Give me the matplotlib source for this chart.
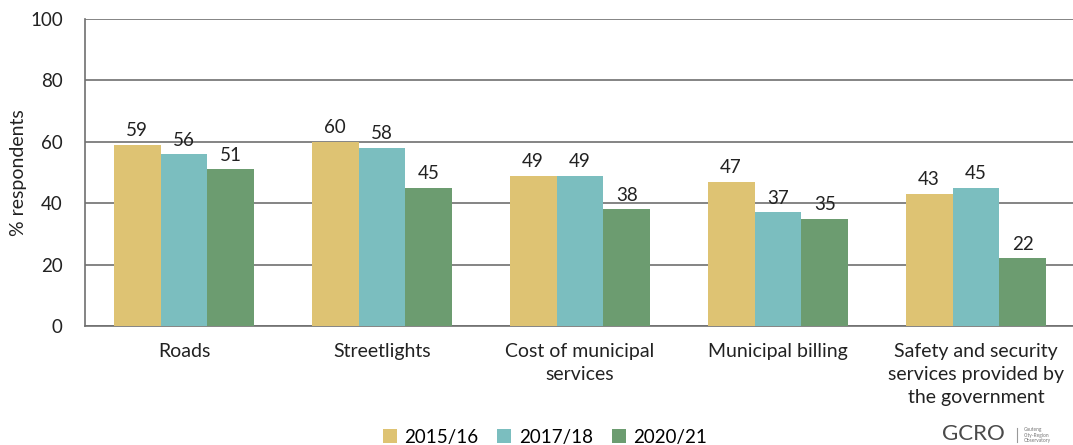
import numpy as np
import matplotlib.pyplot as plt

plt.rcParams['font.family'] = ['Lato', 'DejaVu Sans']

categories = ['Roads', 'Streetlights', 'Cost of municipal\nservices',
              'Municipal billing',
              'Safety and security\nservices provided by\nthe government']
years = ['2015/16', '2017/18', '2020/21']
vals_2015 = [59, 60, 49, 47, 43]
vals_2017 = [56, 58, 49, 37, 45]
vals_2020 = [51, 45, 38, 35, 22]
colors = ['#DEC373', '#7BBEBF', '#6C9C70']

fig = plt.figure(figsize=(10.73, 4.45), dpi=100)
ax = fig.add_axes([85 / 1073, 119 / 445, 990 / 1073, 307 / 445])

x = np.arange(len(categories))
w = 0.237
series = [vals_2015, vals_2017, vals_2020]
for i, (vals, c, lab) in enumerate(zip(series, colors, years)):
    bars = ax.bar(x + (i - 1) * w, vals, width=w, color=c, label=lab, zorder=3)
    for b, v in zip(bars, vals):
        ax.annotate(str(v), (b.get_x() + b.get_width() / 2, v),
                    xytext=(0, 4), textcoords='offset points',
                    ha='center', va='bottom', fontsize=13.5, color='#222222')

ax.set_xlim(-0.5, len(categories) - 0.5)
ax.set_ylim(0, 100)
ax.set_yticks([0, 20, 40, 60, 80, 100])
ax.grid(axis='y', color='#6f6f6f', linewidth=1.2, zorder=0)
ax.set_xticks(x)
ax.set_xticklabels(categories, fontsize=14, linespacing=1.45)
ax.tick_params(axis='both', length=0, colors='#222222')
ax.tick_params(axis='y', labelsize=13.5, pad=16)
ax.tick_params(axis='x', pad=12)
for s in ['top', 'right']:
    ax.spines[s].set_visible(False)
for s in ['left', 'bottom']:
    ax.spines[s].set_color('#6f6f6f')
    ax.spines[s].set_linewidth(1.2)
ax.set_ylabel('% respondents', fontsize=14, color='#222222', labelpad=2)

fig.legend(loc='center', bbox_to_anchor=(545 / 1073, 8 / 445), ncol=3,
           frameon=False, fontsize=13.5, handlelength=0.75, handleheight=0.75,
           handletextpad=0.4, columnspacing=1.0)

fig.text(942 / 1073, 11 / 445, 'GCRO', fontsize=16, color='#4a4a4a',
         va='center', ha='left')
fig.add_artist(plt.Line2D([1017 / 1073, 1017 / 1073], [3 / 445, 17 / 445],
                          color='#999999', linewidth=0.8))
fig.text(1024 / 1073, 10 / 445, 'Gauteng\nCity-Region\nObservatory',
         fontsize=3.5, color='#777777', va='center', ha='left',
         linespacing=1.1)

fig.savefig('out.png', dpi=100)
